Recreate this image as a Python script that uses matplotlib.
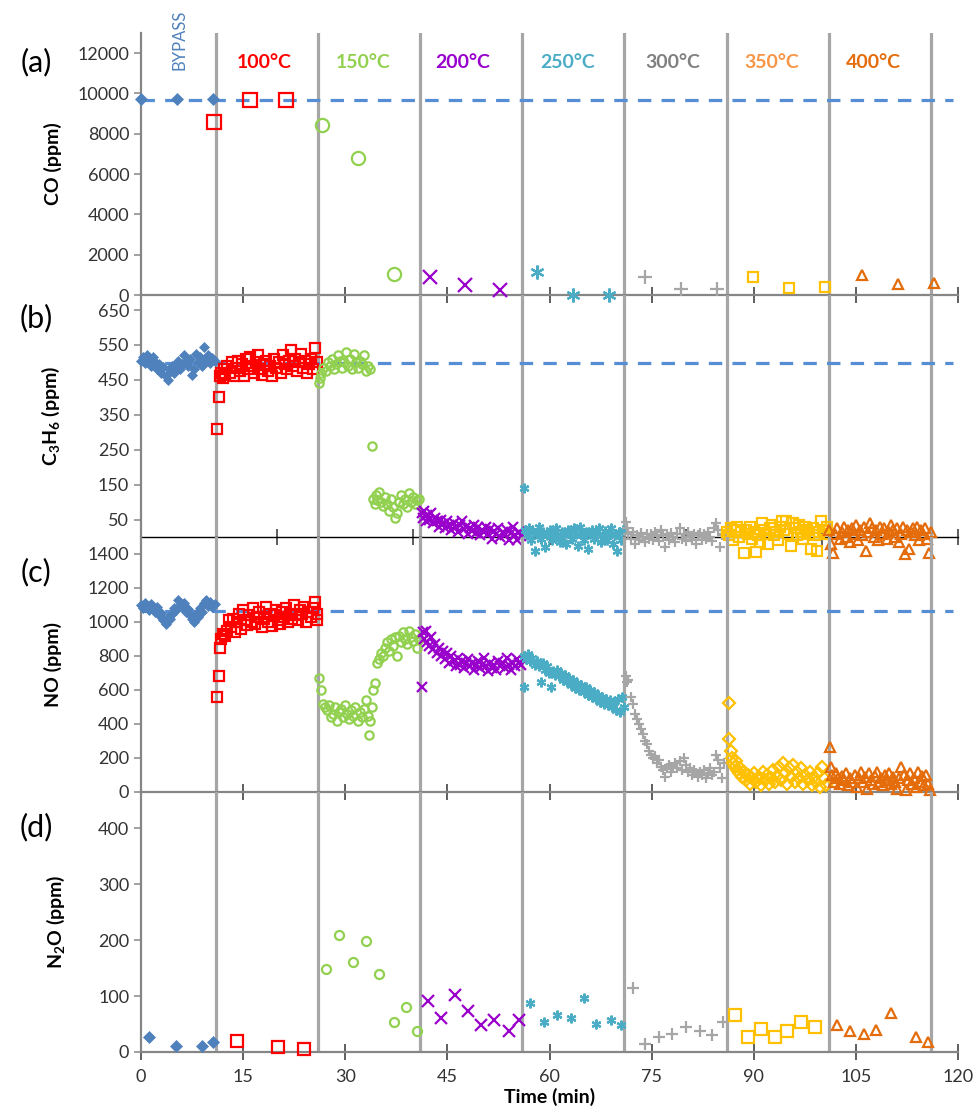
import matplotlib
matplotlib.use('Agg')
import matplotlib.pyplot as plt

plt.rcParams['font.family'] = ['Lato', 'DejaVu Sans']
plt.rcParams['mathtext.default'] = 'regular'

# ---------------- (a) CO ----------------
co_byp_t = [0.0, 5.3, 10.6]
co_byp = [9750, 9720, 9720]
co_100_t = [10.7, 16.0, 21.3]
co_100 = [8580, 9670, 9670]
co_150_t = [26.6, 31.9, 37.2]
co_150 = [8430, 6790, 1040]
co_200_t = [42.4, 47.6, 52.7]
co_200 = [890, 500, 250]
co_250_t = [58.2, 63.5, 68.7]
co_250 = [1140, 20, 20]
co_300_t = [74.0, 79.3, 84.6]
co_300 = [890, 300, 300]
co_350_t = [89.9, 95.2, 100.5]
co_350 = [900, 350, 400]
co_400_t = [105.9, 111.2, 116.5]
co_400 = [990, 550, 600]
co_bypass_level = 9680

# ---------------- (b) C3H6 ----------------
hc_byp_t = [0.0, 0.3, 0.6, 0.9, 1.2, 1.5, 1.8, 2.1, 2.4, 2.7, 3.0, 3.3, 3.6, 3.9, 4.2, 4.5, 4.8, 5.1, 5.4,
            5.7, 6.0, 6.3, 6.6, 6.9, 7.2, 7.5, 7.8, 8.1, 8.4, 8.7, 9.0, 9.3, 9.6, 9.9, 10.2, 10.5, 10.8]
hc_byp = [505, 515, 498, 522, 510, 490, 515, 500, 480, 495, 470, 488, 460, 450, 478, 490, 470, 485, 505,
          480, 495, 520, 500, 490, 510, 465, 482, 525, 500, 515, 490, 545, 505, 520, 498, 512, 505]
hc_100_t = [11.2, 11.4, 11.6, 11.8, 12.0, 12.2, 12.4, 12.7, 13.0, 13.3, 13.6, 13.9, 14.2, 14.5, 14.8, 15.1,
            15.4, 15.7, 16.0, 16.3, 16.6, 16.9, 17.2, 17.5, 17.8, 18.1, 18.4, 18.7, 19.0, 19.3, 19.6, 19.9,
            20.2, 20.5, 20.8, 21.1, 21.4, 21.7, 22.0, 22.3, 22.6, 22.9, 23.2, 23.5, 23.8, 24.1, 24.4, 24.7,
            25.0, 25.3, 25.6, 25.9]
hc_100 = [310, 400, 460, 470, 455, 480, 465, 490, 470, 500, 460, 485, 505, 475, 495, 460,
          510, 480, 515, 490, 470, 500, 520, 480, 465, 495, 505, 475, 490, 460, 510, 485,
          500, 470, 520, 495, 480, 505, 535, 490, 510, 475, 500, 525, 485, 505, 470, 495,
          510, 480, 540, 500]
hc_150_t = [26.1, 26.3, 26.5, 26.8, 27.1, 27.4, 27.7, 28.0, 28.3, 28.6, 28.9, 29.2, 29.5, 29.8, 30.1, 30.4,
            30.7, 31.0, 31.3, 31.6, 31.9, 32.2, 32.5, 32.8, 33.1, 33.4, 33.7, 33.9, 34.1, 34.3, 34.5, 34.7,
            34.9, 35.2, 35.5, 35.8, 36.1, 36.4, 36.7, 37.0, 37.3, 37.6, 37.9, 38.2, 38.5, 38.8, 39.1, 39.4,
            39.7, 40.0, 40.3, 40.6, 40.9]
hc_150 = [440, 455, 470, 485, 475, 500, 490, 510, 480, 495, 520, 505, 485, 500, 530, 490,
          510, 480, 525, 500, 485, 505, 495, 520, 475, 490, 480, 260, 110, 95, 120, 105,
          130, 100, 90, 115, 95, 75, 110, 85, 55, 70, 100, 120, 95, 110, 85, 125,
          100, 115, 95, 105, 110]
hc_200_t = [41.2, 41.4, 41.6, 41.8, 42.0, 42.3, 42.6, 42.9, 43.2, 43.5, 43.8, 44.1, 44.4, 44.7, 45.0, 45.3,
            45.6, 45.9, 46.2, 46.5, 46.8, 47.1, 47.4, 47.7, 48.0, 48.3, 48.6, 48.9, 49.2, 49.5, 49.8, 50.1,
            50.4, 50.7, 51.0, 51.3, 51.6, 51.9, 52.2, 52.5, 52.8, 53.1, 53.4, 53.7, 54.0, 54.3, 54.6, 54.9,
            55.2, 55.5, 55.8]
hc_200 = [70, 55, 75, 45, 62, 50, 68, 40, 55, 45, 30, 50, 38, 25, 45, 35,
          20, 40, 28, 15, 35, 45, 22, 30, 10, 25, 18, 35, 12, 28, 5, 20,
          15, 30, 8, 22, -5, 18, 10, 25, 0, 15, 5, 20, -8, 12, 30, 5,
          -10, 15, 2]
hc_250_t = [56.2, 56.4, 56.7, 57.0, 57.3, 57.6, 57.9, 58.2, 58.5, 58.8, 59.1, 59.4, 59.7, 60.0, 60.3, 60.6,
            60.9, 61.2, 61.5, 61.8, 62.1, 62.4, 62.7, 63.0, 63.3, 63.6, 63.9, 64.2, 64.5, 64.8, 65.1, 65.4,
            65.7, 66.0, 66.3, 66.6, 66.9, 67.2, 67.5, 67.8, 68.1, 68.4, 68.7, 69.0, 69.3, 69.6, 69.9, 70.2,
            70.5, 70.8]
hc_250 = [140, 20, 5, 25, -10, 15, -40, 10, 28, -5, 15, -30, 5, 20, -10, 10,
          25, 0, -15, 15, 5, -20, 20, 8, -5, 25, 10, -25, 30, 5, -10, 15,
          -35, 8, 20, -5, 12, 25, -15, 5, 18, -8, 10, 25, -20, 5, -40, 15,
          -10, 20]
hc_300_t = [71.2, 71.4, 71.6, 71.9, 72.2, 72.5, 72.8, 73.1, 73.4, 73.7, 74.0, 74.3, 74.6, 74.9, 75.2, 75.5,
            75.8, 76.1, 76.4, 76.7, 77.0, 77.3, 77.6, 77.9, 78.2, 78.5, 78.8, 79.1, 79.4, 79.7, 80.0, 80.3,
            80.6, 80.9, 81.2, 81.5, 81.8, 82.1, 82.4, 82.7, 83.0, 83.3, 83.6, 83.9, 84.2, 84.5, 84.8, 85.1,
            85.4, 85.7]
hc_300 = [42, 25, 10, -5, 15, -20, 5, -10, 12, 0, -15, 8, -5, 10, -8, 15,
          3, -12, 20, 5, -30, 8, -10, 12, 0, -15, 10, 25, -5, 8, -12, 15,
          0, -8, 10, -20, 5, 12, -10, 8, -5, 15, 0, -12, 25, 40, 20, -30,
          5, 10]
hc_350_t = [86.1, 86.4, 86.7, 87.0, 87.3, 87.6, 87.9, 88.2, 88.5, 88.8, 89.1, 89.4, 89.7, 90.0, 90.3, 90.6,
            90.9, 91.2, 91.5, 91.8, 92.1, 92.4, 92.7, 93.0, 93.3, 93.6, 93.9, 94.2, 94.5, 94.8, 95.1, 95.4,
            95.7, 96.0, 96.3, 96.6, 96.9, 97.2, 97.5, 97.8, 98.1, 98.4, 98.7, 99.0, 99.3, 99.6, 99.9, 100.2,
            100.5, 100.8]
hc_350 = [15, 5, 25, -10, 20, 30, 0, 15, -45, 20, 10, 28, -5, 15, -44, 5,
          -15, 40, 20, 10, -20, 25, 35, 5, 15, -10, 30, 45, 20, 45, 10, -25,
          40, 25, 5, 35, 15, -5, 30, 20, 10, -33, 25, 5, -40, 15, 45, 20,
          8, 30]
hc_400_t = [101.1, 101.4, 101.7, 102.0, 102.3, 102.6, 102.9, 103.2, 103.5, 103.8, 104.1, 104.4, 104.7,
            105.0, 105.3, 105.6, 105.9, 106.2, 106.5, 106.8, 107.1, 107.4, 107.7, 108.0, 108.3, 108.6,
            108.9, 109.2, 109.5, 109.8, 110.1, 110.4, 110.7, 111.0, 111.3, 111.6, 111.9, 112.2, 112.5,
            112.8, 113.1, 113.4, 113.7, 114.0, 114.3, 114.6, 114.9, 115.2, 115.5, 115.8, 116.0]
hc_400 = [20, -20, -45, 10, 25, -5, 15, 30, 0, 20, -15, 25, 10,
          35, -10, 20, 5, 30, -40, 15, 40, 25, 0, 20, -10, 30,
          10, 25, -5, 15, 35, 20, 0, 25, -15, 10, 30, -50, 20,
          -35, 15, 25, 5, 30, -10, 20, 10, 25, -5, -45, 15]
hc_bypass_level = 497

# ---------------- (c) NO ----------------
no_byp_t = hc_byp_t
no_byp = [1100, 1085, 1110, 1095, 1070, 1105, 1080, 1060, 1090, 1040, 1055, 1010, 990, 1030, 1015, 1050,
          1085, 1070, 1130, 1100, 1090, 1110, 1060, 1075, 1040, 1020, 1000, 1050, 1030, 1080, 1060, 1110,
          1130, 1095, 1120, 1090, 1105]
no_100_t = [11.2, 11.4, 11.6, 11.8, 12.0, 12.3, 12.6, 12.9, 13.2, 13.5, 13.8, 14.1, 14.4, 14.7, 15.0, 15.3,
            15.6, 15.9, 16.2, 16.5, 16.8, 17.1, 17.4, 17.7, 18.0, 18.3, 18.6, 18.9, 19.2, 19.5, 19.8, 20.1,
            20.4, 20.7, 21.0, 21.3, 21.6, 21.9, 22.2, 22.5, 22.8, 23.1, 23.4, 23.7, 24.0, 24.3, 24.6, 24.9,
            25.2, 25.5, 25.8, 25.9]
no_100 = [560, 680, 850, 900, 930, 920, 950, 1010, 970, 1020, 940, 1000, 1050, 960, 1070, 1010,
          980, 1040, 1000, 1080, 990, 1030, 1060, 970, 1020, 1090, 1000, 1050, 975, 1040, 1070, 1010,
          990, 1060, 1030, 1080, 1000, 1050, 1020, 1100, 1040, 1010, 1070, 1050, 1090, 1000, 1060, 1030,
          1080, 1120, 1050, 1010]
no_150_t = [26.2, 26.4, 26.7, 27.0, 27.3, 27.6, 27.9, 28.2, 28.5, 28.8, 29.1, 29.4, 29.7, 30.0, 30.3, 30.6,
            30.9, 31.2, 31.5, 31.8, 32.1, 32.4, 32.7, 33.0, 33.3, 33.5, 33.7, 33.9, 34.1, 34.3, 34.6, 34.9,
            35.2, 35.5, 35.8, 36.1, 36.4, 36.7, 37.0, 37.3, 37.6, 37.9, 38.2, 38.5, 38.8, 39.1, 39.4, 39.7,
            40.0, 40.3, 40.6, 40.9]
no_150 = [670, 600, 520, 500, 480, 510, 440, 460, 500, 420, 470, 490, 440, 510, 460, 430,
          480, 450, 500, 420, 470, 440, 490, 540, 450, 335, 420, 500, 600, 640, 760, 780,
          820, 800, 850, 880, 830, 900, 860, 910, 800, 920, 880, 940, 900, 870, 950, 910,
          890, 930, 845, 900]
no_200_t = hc_200_t[:]
no_200 = [620, 940, 900, 950, 880, 860, 910, 840, 870, 820, 850, 800, 830, 780, 820, 760,
          800, 770, 740, 790, 750, 770, 730, 760, 780, 740, 760, 720, 750, 770, 730, 750,
          790, 740, 710, 760, 730, 750, 720, 770, 740, 760, 730, 790, 750, 720, 760, 740,
          780, 760, 745]
no_250_t = [56.2, 56.3, 56.6, 56.9, 57.2, 57.5, 57.8, 58.1, 58.4, 58.7, 59.0, 59.3, 59.6, 59.9, 60.2, 60.5,
            60.8, 61.1, 61.4, 61.7, 62.0, 62.3, 62.6, 62.9, 63.2, 63.5, 63.8, 64.1, 64.4, 64.7, 65.0, 65.3,
            65.6, 65.9, 66.2, 66.5, 66.8, 67.1, 67.4, 67.7, 68.0, 68.3, 68.6, 68.9, 69.2, 69.5, 69.8, 70.1,
            70.4, 70.7, 70.9]
no_250 = [620, 800, 780, 810, 770, 790, 750, 770, 740, 650, 760, 720, 740, 700, 620, 710,
          690, 720, 680, 700, 660, 690, 650, 670, 630, 660, 610, 640, 600, 630, 590, 620,
          570, 600, 560, 590, 550, 570, 530, 560, 520, 550, 510, 540, 500, 530, 480, 550,
          470, 560, 500]
no_300_t = hc_300_t[:]
no_300 = [680, 650, 660, 560, 520, 460, 430, 400, 370, 340, 300, 280, 240, 220, 200, 210,
          170, 190, 150, 130, 90, 140, 160, 120, 150, 170, 140, 180, 130, 200, 160, 120,
          140, 100, 130, 110, 90, 120, 100, 130, 80, 110, 140, 100, 120, 220, 190, 140,
          80, 170]
no_350_t = [86.3, 86.4, 86.6, 86.8, 87.0, 87.2, 87.4, 87.6, 87.8, 88.0, 88.3, 88.6, 88.9, 89.2, 89.5, 89.8,
            90.1, 90.4, 90.7, 91.0, 91.3, 91.6, 91.9, 92.2, 92.5, 92.8, 93.1, 93.4, 93.7, 94.0, 94.3, 94.6,
            94.9, 95.2, 95.5, 95.8, 96.1, 96.4, 96.7, 97.0, 97.3, 97.6, 97.9, 98.2, 98.5, 98.8, 99.1, 99.4,
            99.7, 100.0, 100.3, 100.6]
no_350 = [522, 310, 240, 200, 170, 150, 180, 130, 110, 140, 90, 120, 70, 100, 50, 80,
          110, 60, 90, 40, 120, 70, 100, 50, 80, 130, 60, 95, 150, 70, 170, 110,
          50, 140, 90, 160, 60, 120, 80, 140, 50, 100, 70, 120, 40, 90, 60, 110,
          30, 150, 80, 40]
no_400_t = [101.2, 101.3, 101.5, 101.8, 102.1, 102.4, 102.7, 103.0, 103.3, 103.6, 103.9, 104.2, 104.5,
            104.8, 105.1, 105.4, 105.7, 106.0, 106.3, 106.6, 106.9, 107.2, 107.5, 107.8, 108.1, 108.4,
            108.7, 109.0, 109.3, 109.6, 109.9, 110.2, 110.5, 110.8, 111.1, 111.4, 111.7, 112.0, 112.3,
            112.6, 112.9, 113.2, 113.5, 113.8, 114.1, 114.4, 114.7, 115.0, 115.3, 115.6, 115.9]
no_400 = [263, 150, 100, 60, 110, 80, 50, 95, 70, 110, 40, 80, 60,
          100, 30, 85, 120, 60, 90, 20, 110, 70, 50, 95, 120, 60,
          85, 40, 100, 70, 110, 50, 90, 60, 20, 80, 150, 100, 10,
          70, 110, 50, 80, 30, 120, 60, 95, 40, 100, 50, 10]
no_bypass_level = 1066

# ---------------- (d) N2O ----------------
n2o_byp_t = [1.2, 5.1, 8.9, 10.6]
n2o_byp = [27, 11, 11, 17]
n2o_100_t = [14.1, 20.1, 23.9]
n2o_100 = [20, 9, 5]
n2o_150_t = [27.1, 29.1, 31.1, 33.0, 35.0, 37.1, 38.9, 40.5]
n2o_150 = [148, 209, 161, 198, 139, 54, 80, 37]
n2o_200_t = [42.2, 44.1, 46.1, 48.1, 49.9, 51.8, 54.1, 55.5]
n2o_200 = [92, 61, 102, 73, 48, 57, 38, 57]
n2o_250_t = [57.1, 59.2, 61.1, 63.1, 65.1, 66.9, 69.0, 70.5]
n2o_250 = [87, 54, 67, 60, 96, 50, 57, 48]
n2o_300_t = [72.3, 74.1, 76.1, 78.0, 80.1, 82.1, 83.9, 85.5]
n2o_300 = [115, 15, 26, 32, 44, 38, 30, 54]
n2o_350_t = [87.2, 89.2, 91.1, 93.1, 94.9, 96.9, 99.0]
n2o_350 = [67, 27, 41, 26, 38, 54, 44]
n2o_400_t = [102.2, 104.1, 106.2, 108.0, 110.1, 113.9, 115.6]
n2o_400 = [48, 38, 33, 40, 70, 26, 18]

switch_times = [11, 26, 41, 56, 71, 86, 101, 116]
temp_labels = ['100°C', '150°C', '200°C', '250°C', '300°C', '350°C', '400°C']
temp_label_x = [18.1, 32.6, 47.3, 62.7, 78.1, 92.7, 107.5]

# styles: marker, colour, filled
STYLE = {
    'byp': ('D', '#4F81BD', True),
    '100': ('s', '#FF0000', False),
    '150': ('o', '#92D050', False),
    '200': ('x', '#9900CC', False),
    '250': ((6, 2, 0), '#4BACC6', False),
    '300': ('+', '#A6A6A6', False),
    '350': ('s', '#FFC000', False),
    '400': ('^', '#E46C0A', False),
}
TEMP_COLORS = ['#FF0000', '#92D050', '#9900CC', '#4BACC6', '#808080', '#F79646', '#E46C0A']


def draw_series(ax, series, sizes, marker_override=None):
    for key, t, v in series:
        marker, color, filled = STYLE[key]
        if marker_override and key in marker_override:
            marker = marker_override[key]
        ms = sizes.get(key, 6)
        if filled:
            ax.plot(t, v, ls='none', marker=marker, ms=ms, mfc=color, mec=color, mew=0.5,
                    clip_on=False, zorder=3)
        else:
            ax.plot(t, v, ls='none', marker=marker, ms=ms, mfc='none', mec=color, mew=1.6,
                    clip_on=False, zorder=3)


def style_axis(ax, ylim, yticks, spine_color='#868686', spine_lw=1.6, xticks=range(0, 121, 15)):
    ax.set_facecolor('none')
    ax.set_xlim(0, 120)
    ax.set_ylim(*ylim)
    ax.set_yticks(yticks)
    ax.set_xticks(list(xticks))
    for s in ['top', 'right']:
        ax.spines[s].set_visible(False)
    ax.spines['left'].set_color('#868686')
    ax.spines['left'].set_linewidth(1.6)
    ax.spines['bottom'].set_color(spine_color)
    ax.spines['bottom'].set_linewidth(spine_lw)
    ax.tick_params(axis='x', direction='inout', length=11, width=1.1, color='#333333',
                   labelbottom=False, labelsize=13, labelcolor='#333333')
    ax.tick_params(axis='y', direction='out', length=5, width=1.1, color='#868686',
                   labelsize=13, labelcolor='#333333')
    for xv in switch_times:
        ax.axvline(xv, color='#A6A6A6', lw=2.3, zorder=1)


fig = plt.figure(figsize=(9.75, 11.06), dpi=100)
H = 1106.0
left = 141 / 975
width = 817 / 975
ax_a = fig.add_axes([left, 1 - 295 / H, width, 262 / H])
ax_b = fig.add_axes([left, 1 - 537 / H, width, 242 / H])
ax_c = fig.add_axes([left, 1 - 792 / H, width, 255 / H])
ax_d = fig.add_axes([left, 1 - 1052 / H, width, 260 / H])

dash = dict(color='#558ED5', lw=2.3, dashes=(4.2, 3.2), zorder=2)
small = {'byp': 5.5, '100': 6.5, '150': 6, '200': 7, '250': 7, '300': 7.5, '350': 6.5, '400': 6.5}

# (a)
style_axis(ax_a, (0, 13000), range(0, 12001, 2000))
ax_a.plot([0, 119.3], [co_bypass_level] * 2, **dash)
draw_series(ax_a, [('byp', co_byp_t, co_byp), ('100', co_100_t, co_100), ('150', co_150_t, co_150),
                   ('200', co_200_t, co_200), ('250', co_250_t, co_250), ('300', co_300_t, co_300),
                   ('350', co_350_t, co_350), ('400', co_400_t, co_400)],
            {'byp': 6, '100': 9.5, '150': 9.5, '200': 9.5, '250': 10, '300': 9.5, '350': 7, '400': 7})
ax_a.set_ylabel('CO (ppm)', fontsize=14, fontweight='bold')
ax_a.yaxis.set_label_coords(-0.097, 0.5)
ax_a.text(5.7, 12640, 'BYPASS', rotation=90, color='#4F81BD', fontsize=12,
          ha='center', va='center')
for lab, xv, col in zip(temp_labels, temp_label_x, TEMP_COLORS):
    ax_a.text(xv, 11550, lab, color=col, fontsize=14, fontweight='bold', ha='center', va='center')

# (b)
style_axis(ax_b, (0, 693), range(50, 651, 100), spine_color='black', spine_lw=1.0,
           xticks=range(0, 121, 20))
ax_b.plot([0, 119.3], [hc_bypass_level] * 2, **dash)
draw_series(ax_b, [('byp', hc_byp_t, hc_byp), ('100', hc_100_t, hc_100), ('150', hc_150_t, hc_150),
                   ('200', hc_200_t, hc_200), ('250', hc_250_t, hc_250), ('300', hc_300_t, hc_300),
                   ('350', hc_350_t, hc_350), ('400', hc_400_t, hc_400)], small)
ax_b.set_ylabel('C$_3$H$_6$ (ppm)', fontsize=14, fontweight='bold')
ax_b.yaxis.set_label_coords(-0.097, 0.5)

# (c)
style_axis(ax_c, (0, 1500), range(0, 1401, 200))
ax_c.plot([0, 119.3], [no_bypass_level] * 2, **dash)
draw_series(ax_c, [('byp', no_byp_t, no_byp), ('100', no_100_t, no_100), ('150', no_150_t, no_150),
                   ('200', no_200_t, no_200), ('250', no_250_t, no_250), ('300', no_300_t, no_300),
                   ('350', no_350_t, no_350), ('400', no_400_t, no_400)], small,
            marker_override={'350': 'D'})
ax_c.set_ylabel('NO (ppm)', fontsize=14, fontweight='bold')
ax_c.yaxis.set_label_coords(-0.097, 0.5)

# (d)
style_axis(ax_d, (0, 465), range(0, 401, 100))
ax_d.tick_params(axis='x', labelbottom=True, pad=7)
draw_series(ax_d, [('byp', n2o_byp_t, n2o_byp), ('100', n2o_100_t, n2o_100), ('150', n2o_150_t, n2o_150),
                   ('200', n2o_200_t, n2o_200), ('250', n2o_250_t, n2o_250), ('300', n2o_300_t, n2o_300),
                   ('350', n2o_350_t, n2o_350), ('400', n2o_400_t, n2o_400)],
            {'byp': 6, '100': 9, '150': 6.5, '200': 9, '250': 7, '300': 8.5, '350': 8, '400': 7.5})
ax_d.set_ylabel('N$_2$O (ppm)', fontsize=14, fontweight='bold')
ax_d.yaxis.set_label_coords(-0.090, 0.5)
ax_d.set_xlabel('Time (min)', fontsize=14, fontweight='bold', labelpad=2)

for lab, ypx in [('(a)', 62), ('(b)', 318), ('(c)', 572), ('(d)', 827)]:
    fig.text(36 / 975, 1 - ypx / H, lab, fontsize=22, ha='center', va='center')

fig.savefig('out.png', dpi=100)
